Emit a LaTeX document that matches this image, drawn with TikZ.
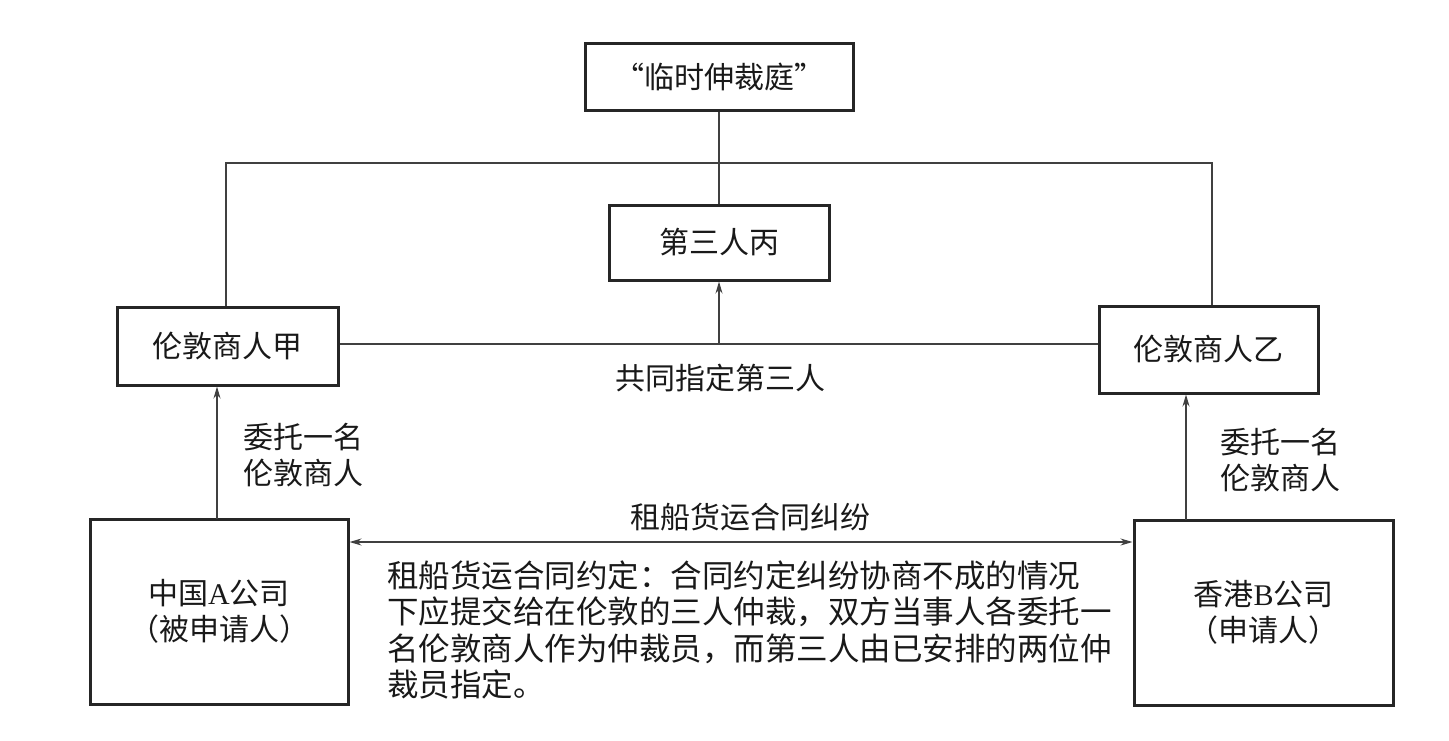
\documentclass[tikz,border=0pt]{standalone}
\usepackage{fontspec}
\setmainfont{Noto Sans CJK SC}
\newfontfamily\latfont{Liberation Serif}
\newcommand\lat[1]{{\latfont #1}}
\usetikzlibrary{arrows.meta}
\tikzset{
  box/.style={draw=black!85, line width=3pt, inner sep=0pt, align=center,
    font=\fontsize{30}{36}\selectfont, text=black!90},
  conn/.style={draw=black!75, line width=1.3pt},
  arr/.style={conn, -{Stealth[length=12pt,width=7pt]}},
  darr/.style={conn, {Stealth[length=12pt,width=7pt]}-{Stealth[length=12pt,width=7pt]}},
  lbl/.style={inner sep=0pt, align=left, font=\fontsize{30}{36}\selectfont, text=black!90},
  blk/.style={inner sep=0pt, align=left, font=\fontsize{31.5}{36.5}\selectfont, text=black!90}
}
\begin{document}
\begin{tikzpicture}[x=1pt,y=-1pt]
\useasboundingbox (0,0) rectangle (1449,740);
\node[box, minimum width=268pt, minimum height=67pt] (top) at (719,76.5) {\makebox[1em][r]{“}临时伸裁庭\makebox[1em][l]{”}};
\node[box, minimum width=220pt, minimum height=75pt] (third) at (719,242.5) {第三人丙};
\node[box, minimum width=221pt, minimum height=78pt] (jia) at (227.5,346) {伦敦商人甲};
\node[box, minimum width=219pt, minimum height=87pt] (yi) at (1208.5,349.5) {伦敦商人乙};
\node[box, minimum width=258pt, minimum height=185pt] (A) at (219,611.5) {中国\lat{A}公司\\（被申请人）};
\node[box, minimum width=259pt, minimum height=185pt] (B) at (1263.5,612.5) {\raisebox{-6pt}{\parbox{200pt}{\centering 香港\lat{B}公司\\（申请人）}}};

\coordinate (topl) at (226,163);
\coordinate (topr) at (1212,163);
\coordinate (mid) at (719,344);
\coordinate (la) at (217,519);
\coordinate (ra) at (1186,520);
\coordinate (dbl) at (740,542);

\draw[conn] (top.south) -- (third.north);
\draw[conn] (jia.north -| topl) -- (topl) -- (topr) -- (yi.north -| topr);
\draw[conn] (jia.east |- mid) -- (yi.west |- mid);
\draw[arr] (mid) -- (third.south);
\draw[arr] (la) -- (la |- jia.south);
\draw[arr] (ra) -- (ra |- yi.south);
\draw[darr] (A.east |- dbl) -- (B.west |- dbl);

\node[lbl] (l1) at (720,378) {共同指定第三人};
\node[lbl, anchor=west] (l2) at (243,455) {委托一名\\伦敦商人};
\node[lbl, anchor=west] (l3) at (1220,460) {委托一名\\伦敦商人};
\node[lbl] (l4) at (750,517) {租船货运合同纠纷};
\node[blk, anchor=west] (l5) at (387,630) {租船货运合同约定：合同约定纠纷协商不成的情况\\下应提交给在伦敦的三人仲裁，双方当事人各委托一\\名伦敦商人作为仲裁员，而第三人由已安排的两位仲\\裁员指定。};
\end{tikzpicture}
\end{document}
